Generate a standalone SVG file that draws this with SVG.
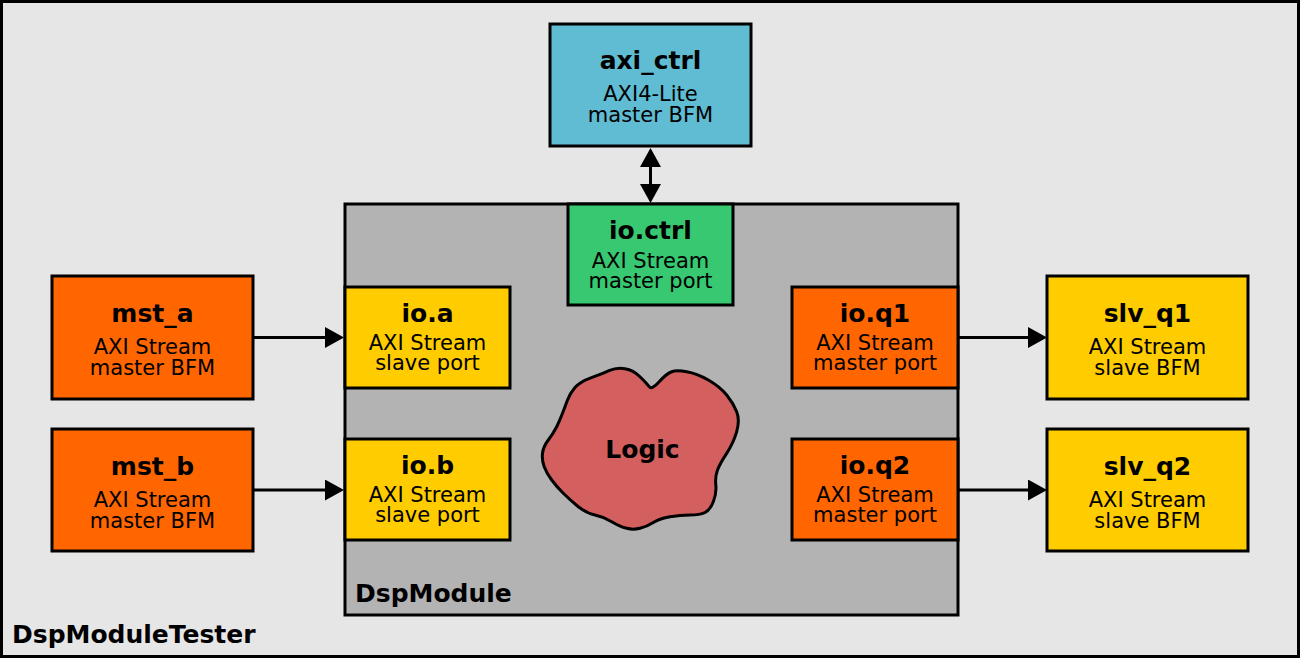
<svg xmlns="http://www.w3.org/2000/svg" width="1300" height="658" viewBox="0 0 1300 658">
<defs>
<style>
.box{stroke:#000;stroke-width:3}
.orange{fill:#ff6600}
.yellow{fill:#ffcc00}
.green{fill:#37c871}
.blue{fill:#5fbcd3}
.t{font-family:"DejaVu Sans",sans-serif;font-weight:bold;font-size:25px;text-anchor:middle;fill:#000}
.s{font-family:"DejaVu Sans",sans-serif;font-size:21px;text-anchor:middle;fill:#000}
.lbl{font-family:"DejaVu Sans",sans-serif;font-weight:bold;font-size:25px;fill:#000}
.conn{stroke:#000;stroke-width:3;fill:none}
</style>
<marker id="ah" viewBox="0 0 19 21" refX="5" refY="10.5" markerWidth="19" markerHeight="21" markerUnits="userSpaceOnUse" orient="auto-start-reverse">
<path d="M0,0 L19,10.5 L0,21 Z" fill="#000"/>
</marker>
</defs>
<g id="DspModuleTester">
<rect x="1.5" y="1.5" width="1297" height="655" fill="#e6e6e6" class="box"/>
<text class="lbl" x="12" y="643">DspModuleTester</text>
</g>
<g id="DspModule">
<rect x="345" y="204" width="613" height="411" fill="#b3b3b3" class="box"/>
<text class="lbl" x="355" y="602">DspModule</text>
</g>
<g id="logic">
<path d="M609,370.7 Q616.7,367.3 625,368.7 Q633.3,370 640,376.7 Q646.7,383.3 649.2,386.7 Q651.7,390 659.2,381.7 Q666.7,373.3 671.7,371.7 Q676.7,370 686.7,371.7 Q696.7,373.3 708.3,380 Q720,386.7 726.7,395 Q733.3,403.3 736.7,411.7 Q740,420 736.7,431.7 Q733.3,443.3 726.7,453.3 Q720,463.3 717.5,470 Q715,476.7 715.8,485 Q716.7,493.3 713.3,501.7 Q710,510 705,512.5 Q700,515 690,515 Q680,515 670,516.7 Q660,518.3 653.3,522.5 Q646.7,526.7 640,528.3 Q633.3,530 626.7,528.3 Q620,526.7 611.7,521.7 Q603.3,516.7 595,515 Q586.7,513.3 578.3,506.7 Q570,500 563.3,493.3 Q556.7,486.7 551.7,480 Q546.7,473.3 544.2,466.7 Q541.7,460 542.5,453.3 Q543.3,446.7 548.3,440 Q553.3,433.3 556.7,426.7 Q560,420 562.5,413.3 Q565,406.7 567.5,400 Q570,393.3 575,387.5 Q580,381.7 590.8,377.8 Q601.7,374 609,370.7 Z" fill="#d35f5f" stroke="#000" stroke-width="3"/>
<text class="t" x="642.5" y="458">Logic</text>
</g>
<g id="axi_ctrl">
<rect x="550" y="24" width="201" height="122" class="box blue"/>
<text class="t" x="650.5" y="69">axi_ctrl</text>
<text class="s" x="650.5" y="101">AXI4-Lite</text>
<text class="s" x="650.5" y="122">master BFM</text>
</g>
<g id="io_ctrl">
<rect x="568" y="204" width="165" height="101" class="box green"/>
<text class="t" x="650.5" y="239">io.ctrl</text>
<text class="s" x="650.5" y="268">AXI Stream</text>
<text class="s" x="650.5" y="288">master port</text>
</g>
<g id="mst_a">
<rect x="52" y="276" width="201" height="123" class="box orange"/>
<text class="t" x="152.5" y="322">mst_a</text>
<text class="s" x="152.5" y="354">AXI Stream</text>
<text class="s" x="152.5" y="375">master BFM</text>
</g>
<g id="mst_b">
<rect x="52" y="429" width="201" height="122" class="box orange"/>
<text class="t" x="152.5" y="475">mst_b</text>
<text class="s" x="152.5" y="507">AXI Stream</text>
<text class="s" x="152.5" y="528">master BFM</text>
</g>
<g id="io_a">
<rect x="345" y="287" width="165" height="101" class="box yellow"/>
<text class="t" x="427.5" y="322">io.a</text>
<text class="s" x="427.5" y="350">AXI Stream</text>
<text class="s" x="427.5" y="370">slave port</text>
</g>
<g id="io_b">
<rect x="345" y="439" width="165" height="101" class="box yellow"/>
<text class="t" x="427.5" y="474">io.b</text>
<text class="s" x="427.5" y="502">AXI Stream</text>
<text class="s" x="427.5" y="522">slave port</text>
</g>
<g id="io_q1">
<rect x="792" y="287" width="166" height="101" class="box orange"/>
<text class="t" x="875" y="322">io.q1</text>
<text class="s" x="875" y="350">AXI Stream</text>
<text class="s" x="875" y="370">master port</text>
</g>
<g id="io_q2">
<rect x="792" y="439" width="166" height="101" class="box orange"/>
<text class="t" x="875" y="474">io.q2</text>
<text class="s" x="875" y="502">AXI Stream</text>
<text class="s" x="875" y="522">master port</text>
</g>
<g id="slv_q1">
<rect x="1047" y="276" width="201" height="123" class="box yellow"/>
<text class="t" x="1147.5" y="322">slv_q1</text>
<text class="s" x="1147.5" y="354">AXI Stream</text>
<text class="s" x="1147.5" y="375">slave BFM</text>
</g>
<g id="slv_q2">
<rect x="1047" y="429" width="201" height="122" class="box yellow"/>
<text class="t" x="1147.5" y="475">slv_q2</text>
<text class="s" x="1147.5" y="507">AXI Stream</text>
<text class="s" x="1147.5" y="528">slave BFM</text>
</g>
<g id="connectors">
<line class="conn" x1="253" y1="337.5" x2="330" y2="337.5" marker-end="url(#ah)"/>
<line class="conn" x1="253" y1="490" x2="330" y2="490" marker-end="url(#ah)"/>
<line class="conn" x1="958" y1="337.5" x2="1033" y2="337.5" marker-end="url(#ah)"/>
<line class="conn" x1="958" y1="490" x2="1033" y2="490" marker-end="url(#ah)"/>
<line class="conn" x1="650.5" y1="162" x2="650.5" y2="189" marker-start="url(#ah)" marker-end="url(#ah)"/>
</g>
</svg>
